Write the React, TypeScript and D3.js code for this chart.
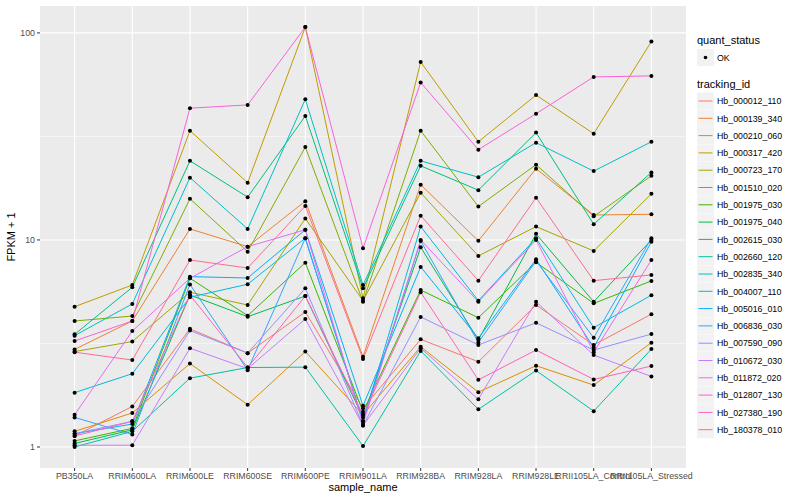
import React, { useEffect, useRef } from 'react'
import * as d3 from 'd3'

const samples = [
  'PB350LA', 'RRIM600LA', 'RRIM600LE', 'RRIM600SE', 'RRIM600PE', 'RRIM901LA',
  'RRIM928BA', 'RRIM928LA', 'RRIM928LE', 'RRII105LA_Control', 'RRII105LA_Stressed',
]

const trackingIds = [
  'Hb_000012_110', 'Hb_000139_340', 'Hb_000210_060', 'Hb_000317_420', 'Hb_000723_170',
  'Hb_001510_020', 'Hb_001975_030', 'Hb_001975_040', 'Hb_002615_030', 'Hb_002660_120',
  'Hb_002835_340', 'Hb_004007_110', 'Hb_005016_010', 'Hb_006836_030', 'Hb_007590_090',
  'Hb_010672_030', 'Hb_011872_020', 'Hb_012807_130', 'Hb_027380_190', 'Hb_180378_010',
]

// ggplot default hue palette for 20 levels
const colors = [
  '#F8766D', '#EA8331', '#D89000', '#C09B00', '#A3A500', '#7CAE00', '#39B600', '#00BB4E',
  '#00BF7D', '#00C1A3', '#00BFC4', '#00BAE0', '#00B0F6', '#35A2FF', '#9590FF', '#C77CFF',
  '#E76BF3', '#FA62DB', '#FF62BC', '#FF6C90',
]

// FPKM + 1, one row per tracking id, one value per sample
const fpkm = [
  [1.13, 1.57, 3.72, 2.84, 4.49, 1.54, 3.31, 2.58, 4.85, 3.11, 4.38],
  [2.96, 4.06, 11.3, 9.28, 15.4, 2.73, 18.5, 9.9, 22.1, 13.2, 13.3],
  [1.19, 1.46, 2.53, 1.6, 2.89, 1.43, 3.05, 1.84, 2.47, 1.99, 3.19],
  [4.76, 6.06, 33.7, 18.9, 106.7, 5.23, 72.4, 29.8, 50.1, 32.6, 90.8],
  [2.89, 3.23, 5.59, 4.85, 12.7, 5.09, 16.9, 8.37, 11.6, 8.85, 16.7],
  [4.06, 4.29, 15.8, 8.78, 28.1, 5.03, 33.7, 14.5, 23.1, 13.0, 20.4],
  [1.07, 1.23, 6.53, 4.31, 7.77, 1.48, 5.73, 4.21, 7.8, 4.94, 6.34],
  [1.04, 1.21, 5.42, 4.26, 5.36, 1.39, 9.22, 3.29, 10.7, 5.03, 10.0],
  [3.5, 5.91, 24.1, 16.1, 39.7, 5.84, 22.8, 17.4, 33.0, 11.9, 21.2],
  [1.0, 1.19, 2.15, 2.42, 2.43, 1.01, 2.91, 1.52, 2.34, 1.49, 2.97],
  [3.45, 4.91, 20.0, 11.3, 47.8, 6.06, 24.1, 20.1, 29.5, 21.5, 29.8],
  [1.83, 2.26, 5.29, 6.11, 10.2, 1.33, 11.6, 5.09, 10.2, 3.77, 5.41],
  [1.16, 1.29, 6.65, 6.55, 11.2, 1.58, 7.41, 3.35, 8.07, 3.02, 9.8],
  [1.39, 1.15, 6.1, 2.35, 10.2, 1.33, 9.89, 3.2, 7.92, 3.37, 10.2],
  [1.16, 1.33, 3.65, 2.84, 5.84, 1.27, 4.25, 3.11, 3.98, 2.94, 3.51],
  [1.02, 1.02, 3.0, 2.39, 4.15, 1.27, 3.0, 1.7, 5.03, 2.78, 2.19],
  [1.43, 3.63, 6.53, 9.28, 11.2, 1.29, 10.0, 5.03, 10.0, 2.87, 8.0],
  [3.25, 4.06, 43.3, 44.9, 106.7, 9.12, 57.6, 27.3, 40.7, 61.3, 62.0],
  [1.13, 1.33, 5.42, 2.42, 5.36, 1.43, 5.59, 2.11, 2.94, 2.12, 2.46],
  [2.87, 2.63, 8.0, 7.32, 14.6, 2.66, 13.1, 6.36, 16.0, 6.36, 6.78],
]

const yTicks = [1, 10, 100]
const yMinor = [Math.pow(10, 0.5), Math.pow(10, 1.5)]

const App = () => {
  const ref = useRef<SVGSVGElement>(null)

  useEffect(() => {
    draw()
  })

  const draw = () => {
    const svg = d3.select(ref.current)
    svg.selectAll('*').remove()

    const left = 40
    const right = 686
    const top = 6
    const bottom = 468
    const font = 'Liberation Sans, Arial, Helvetica, sans-serif'

    const x = d3.scalePoint<string>().domain(samples).range([left, right]).padding(0.6)
    const y = d3
      .scaleLog()
      .domain([Math.pow(10, -0.1015), Math.pow(10, 2.13)])
      .range([bottom, top])

    svg.append('rect').attr('width', 800).attr('height', 500).attr('fill', '#ffffff')

    // panel
    svg
      .append('rect')
      .attr('x', left)
      .attr('y', top)
      .attr('width', right - left)
      .attr('height', bottom - top)
      .attr('fill', '#EBEBEB')

    const grid = svg.append('g')
    yMinor.forEach((v) => {
      grid
        .append('line')
        .attr('x1', left)
        .attr('x2', right)
        .attr('y1', y(v))
        .attr('y2', y(v))
        .attr('stroke', '#ffffff')
        .attr('stroke-width', 0.55)
    })
    yTicks.forEach((v) => {
      grid
        .append('line')
        .attr('x1', left)
        .attr('x2', right)
        .attr('y1', y(v))
        .attr('y2', y(v))
        .attr('stroke', '#ffffff')
        .attr('stroke-width', 1.1)
    })
    samples.forEach((s) => {
      grid
        .append('line')
        .attr('x1', x(s)!)
        .attr('x2', x(s)!)
        .attr('y1', top)
        .attr('y2', bottom)
        .attr('stroke', '#ffffff')
        .attr('stroke-width', 1.1)
    })

    // lines
    const line = d3
      .line<number>()
      .x((d, i) => x(samples[i])!)
      .y((d) => y(d))

    fpkm.forEach((row, k) => {
      svg
        .append('path')
        .datum(row)
        .attr('fill', 'none')
        .attr('stroke', colors[k])
        .attr('stroke-width', 1)
        .attr('d', line)
    })

    // points
    fpkm.forEach((row) => {
      row.forEach((v, i) => {
        svg
          .append('circle')
          .attr('cx', x(samples[i])!)
          .attr('cy', y(v))
          .attr('r', 2)
          .attr('fill', '#000000')
      })
    })

    // axes
    const axis = svg.append('g').attr('font-family', font)
    samples.forEach((s) => {
      axis
        .append('line')
        .attr('x1', x(s)!)
        .attr('x2', x(s)!)
        .attr('y1', bottom)
        .attr('y2', bottom + 3)
        .attr('stroke', '#333333')
      axis
        .append('text')
        .attr('x', x(s)!)
        .attr('y', bottom + 11)
        .attr('text-anchor', 'middle')
        .attr('font-size', 8.8)
        .attr('fill', '#4D4D4D')
        .text(s)
    })
    yTicks.forEach((v) => {
      axis
        .append('line')
        .attr('x1', left - 3)
        .attr('x2', left)
        .attr('y1', y(v))
        .attr('y2', y(v))
        .attr('stroke', '#333333')
      axis
        .append('text')
        .attr('x', left - 5)
        .attr('y', y(v) + 3)
        .attr('text-anchor', 'end')
        .attr('font-size', 8.8)
        .attr('fill', '#4D4D4D')
        .text(d3.format('~g')(v))
    })
    axis
      .append('text')
      .attr('x', (left + right) / 2)
      .attr('y', 491)
      .attr('text-anchor', 'middle')
      .attr('font-size', 11)
      .attr('fill', '#000000')
      .text('sample_name')
    axis
      .append('text')
      .attr('transform', `translate(15,${(top + bottom) / 2}) rotate(-90)`)
      .attr('text-anchor', 'middle')
      .attr('font-size', 11)
      .attr('fill', '#000000')
      .text('FPKM + 1')

    // legends
    const legend = svg.append('g').attr('font-family', font)
    legend
      .append('text')
      .attr('x', 697)
      .attr('y', 44)
      .attr('font-size', 11)
      .text('quant_status')
    legend
      .append('rect')
      .attr('x', 697)
      .attr('y', 49)
      .attr('width', 17)
      .attr('height', 17)
      .attr('fill', '#F2F2F2')
    legend.append('circle').attr('cx', 705.5).attr('cy', 57.5).attr('r', 1.8).attr('fill', '#000000')
    legend
      .append('text')
      .attr('x', 717)
      .attr('y', 61)
      .attr('font-size', 8.8)
      .text('OK')

    legend
      .append('text')
      .attr('x', 697)
      .attr('y', 88)
      .attr('font-size', 11)
      .text('tracking_id')
    trackingIds.forEach((id, k) => {
      const cy = 101 + k * 17.3
      legend
        .append('rect')
        .attr('x', 697)
        .attr('y', cy - 8.5)
        .attr('width', 17)
        .attr('height', 17)
        .attr('fill', '#F2F2F2')
      legend
        .append('line')
        .attr('x1', 698.5)
        .attr('x2', 712.5)
        .attr('y1', cy)
        .attr('y2', cy)
        .attr('stroke', colors[k])
        .attr('stroke-width', 1)
      legend
        .append('text')
        .attr('x', 717)
        .attr('y', cy + 3.2)
        .attr('font-size', 8.8)
        .text(id)
    })
  }

  return (
    <svg
      ref={ref}
      width={800}
      height={500}
      style={{ position: 'absolute', left: 0, top: 0 }}
    />
  )
}

export default App
